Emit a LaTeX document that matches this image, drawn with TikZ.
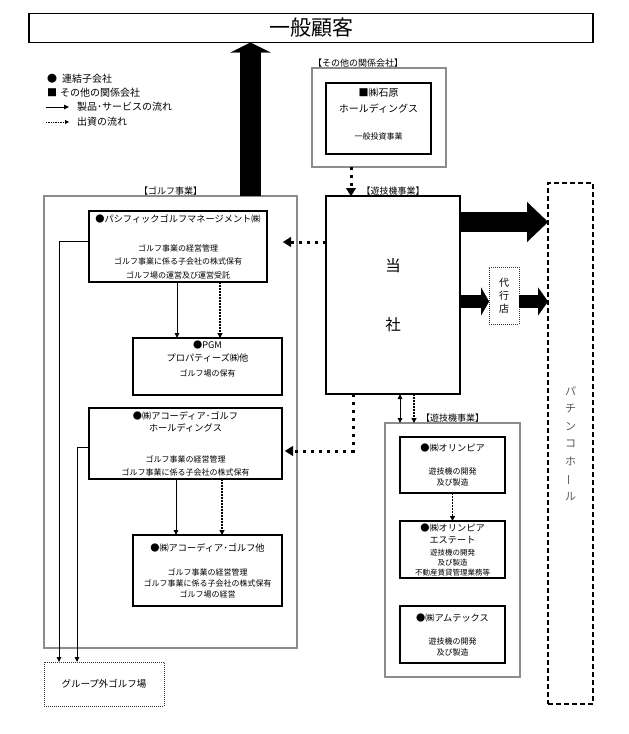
\documentclass[tikz,border=0pt]{standalone}
\usepackage{fontspec}
\usepackage{graphicx}
\setmainfont{Noto Sans CJK JP}
\usetikzlibrary{arrows.meta,positioning,calc}
\definecolor{groupgray}{HTML}{8C8C8C}
\definecolor{hallgray}{HTML}{5A5A5A}
\newcommand{\ttl}{\fontsize{9.2}{13}\selectfont}

\begin{document}
\begin{tikzpicture}[
    x=1pt, y=-1pt,
    box/.style={rectangle, draw, line width=1.1pt, align=center, inner sep=0pt, outer sep=0pt},
    group/.style={rectangle, draw=groupgray, line width=2.4pt, inner sep=0pt, outer sep=0pt},
    grouplbl/.style={inner sep=1pt, font=\fontsize{9}{9}\selectfont},
    dotbox/.style={rectangle, draw=black!80, line width=0.8pt, dash pattern=on 1pt off 1pt, align=center, inner sep=0pt, outer sep=0pt},
    hallbox/.style={rectangle, draw, line width=1.3pt, dash pattern=on 5pt off 3pt, align=center, inner sep=0pt, outer sep=0pt},
    legend/.style={anchor=west, inner sep=0pt, font=\fontsize{10}{10}\selectfont},
    flow/.style={line width=1pt, -{Triangle[length=5pt,width=4.5pt]}},
    legcap/.style={line width=0.8pt, dash pattern=on 0.8pt off 0.9pt, -{Triangle[length=4pt,width=4pt]}},
    capline/.style={line width=1.6pt, dash pattern=on 1.6pt off 1.4pt, -{Triangle[length=5pt,width=5pt]}},
    capthick/.style={line width=3pt, dash pattern=on 3pt off 5pt, -{Triangle[length=8pt,width=10pt,line width=0.1pt]}},
    bigflow/.style={line width=20pt, -{Triangle[length=21pt,width=40pt,line width=0.1pt]}},
    midflow/.style={line width=13pt, -{Triangle[length=8pt,width=28pt,line width=0.1pt]}}
  ]
    \useasboundingbox (0,0) rectangle (629,734);

    \node[box, minimum width=564pt, minimum height=29pt, font=\fontsize{21}{21}\selectfont] (kokyaku) at (311,28) {一般顧客};

    \node[legend] (lgsub) at (47,79) {●\hspace{5pt}連結子会社};
    \node[legend] (lgrel) at (47,93) {■\hspace{3pt}その他の関係会社};
    \node[legend] (lgflow) at (77,107) {製品･サービスの流れ};
    \node[legend] (lgcap) at (77,122) {出資の流れ};
    \draw[flow] ([xshift=-31]lgflow.west) -- ([xshift=-8]lgflow.west);
    \draw[legcap] ([xshift=-31]lgcap.west) -- ([xshift=-8]lgcap.west);

    \node[group, minimum width=134pt, minimum height=99pt, label={[grouplbl, anchor=south west]north west:【その他の関係会社】}] (sonota) at (379,117.5) {};
    \node[box, minimum width=105pt, minimum height=71pt, font=\fontsize{8}{16}\selectfont] (ishihara) at (378.5,118.5) {{\fontsize{10}{16}\selectfont ■㈱石原}\\{\fontsize{10}{16}\selectfont ホールディングス}\\[11pt]一般投資事業\\[-6pt]\mbox{}};

    \node[box, line width=1.3pt, minimum width=134pt, minimum height=198pt, font=\fontsize{15.5}{59}\selectfont, label={[grouplbl]north:【遊技機事業】}] (tosha) at (393,295) {当\\社};
    \node[dotbox, minimum width=30pt, minimum height=57pt, font=\fontsize{10}{13}\selectfont] (dairi) at (504,295.5) {代\\行\\店};
    \node[hallbox, minimum width=45pt, minimum height=521pt, text=hallgray, font=\fontsize{11}{17.5}\selectfont] (hall) at (570.5,443.5) {パ\\チ\\ン\\コ\\ホ\\\rotatebox[origin=c]{90}{ー}\\ル};

    \node[group, minimum width=253pt, minimum height=452pt, label={[grouplbl]north:【ゴルフ事業】}] (golf) at (170.5,422) {};
    \node[box, minimum width=178pt, minimum height=71pt, font=\fontsize{8}{13.5}\selectfont] (pgm) at (178,246.5) {{\ttl ●パシフィックゴルフマネージメント㈱}\\[15.5pt]ゴルフ事業の経営管理\\ゴルフ事業に係る子会社の株式保有\\ゴルフ場の運営及び運営受託};
    \node[box, minimum width=149pt, minimum height=57pt, font=\fontsize{8}{13}\selectfont] (pgmp) at (207.5,366.5) {{\ttl ●PGM}\\{\ttl プロパティーズ㈱他}\\[2pt]ゴルフ場の保有\\[2pt]\mbox{}};
    \node[box, minimum width=193pt, minimum height=71pt, font=\fontsize{8}{12.5}\selectfont] (acchd) at (185.5,443.5) {{\ttl ●㈱アコーディア･ゴルフ}\\{\ttl ホールディングス}\\[18.5pt]ゴルフ事業の経営管理\\ゴルフ事業に係る子会社の株式保有};
    \node[box, minimum width=149pt, minimum height=71pt, font=\fontsize{8}{11}\selectfont] (accg) at (207.5,570.5) {{\ttl ●㈱アコーディア･ゴルフ他}\\[13pt]ゴルフ事業の経営管理\\ゴルフ事業に係る子会社の株式保有\\ゴルフ場の経営};
    \node[dotbox, minimum width=120pt, minimum height=44pt, font=\fontsize{9.5}{9.5}\selectfont] (gaibu) at (104,684) {グループ外ゴルフ場};

    \node[group, minimum width=135pt, minimum height=254pt, label={[grouplbl]north:【遊技機事業】}] (yugi) at (452.5,550) {};
    \node[box, minimum width=105pt, minimum height=56pt, font=\fontsize{8}{11}\selectfont] (olym) at (452.5,465) {{\ttl ●㈱オリンピア}\\[12pt]遊技機の開発\\及び製造};
    \node[box, minimum width=105pt, minimum height=57pt, font=\fontsize{7.5}{10}\selectfont] (estate) at (452.5,549.5) {{\ttl ●㈱オリンピア}\\[2pt]{\ttl エステート}\\[2pt]遊技機の開発\\及び製造\\不動産賃貸管理業務等};
    \node[box, minimum width=105pt, minimum height=57pt, font=\fontsize{8}{11}\selectfont] (amtex) at (452.5,634.5) {{\ttl ●㈱アムテックス}\\[12pt]遊技機の開発\\及び製造};

    \coordinate (pgmin) at (283,242);
    \coordinate (acchdin) at (285,451);

    \draw[bigflow, line width=21pt, -{Triangle[length=10pt,width=40pt,line width=0.1pt]}] ([xshift=80]golf.north) -- ([xshift=80]golf.north |- kokyaku.south);
    \draw[capthick] ([xshift=-28]sonota.south) -- ([xshift=-28]sonota.south |- tosha.north);
    \draw[capthick] (tosha.west |- pgmin) -- (pgmin);
    \draw[capthick] ([xshift=-40]tosha.south) |- (acchdin);
    \draw[line width=1pt, {Triangle[length=5pt,width=4.5pt]}-{Triangle[length=5pt,width=4.5pt]}] ([xshift=7]tosha.south) -- ([xshift=7]tosha.south |- yugi.north);
    \draw[capline] ([xshift=21]tosha.south) -- ([xshift=21]tosha.south |- yugi.north);
    \draw[bigflow] ([yshift=73]tosha.east) -- ([yshift=73]tosha.east -| hall.west);
    \draw[midflow] ([yshift=-6.5]tosha.east) -- ([yshift=-6.5]tosha.east -| dairi.west);
    \draw[midflow, -{Triangle[length=10pt,width=28pt,line width=0.1pt]}] ([yshift=-6]dairi.east) -- ([yshift=-6]dairi.east -| hall.west);

    \draw[flow] ([xshift=-1]pgm.south) -- ([xshift=-1]pgm.south |- pgmp.north);
    \draw[capline] ([xshift=42]pgm.south) -- ([xshift=42]pgm.south |- pgmp.north);
    \draw[flow] ([xshift=-9.5]acchd.south) -- ([xshift=-9.5]acchd.south |- accg.north);
    \draw[capline] ([xshift=36.5]acchd.south) -- ([xshift=36.5]acchd.south |- accg.north);
    \draw[flow] ([yshift=5.5]pgm.west) -| ([xshift=-45]gaibu.north);
    \draw[flow] ([yshift=-3.5]acchd.west) -| ([xshift=-27]gaibu.north);
    \draw[capline] (olym.south) -- (estate.north);
\end{tikzpicture}
\end{document}
